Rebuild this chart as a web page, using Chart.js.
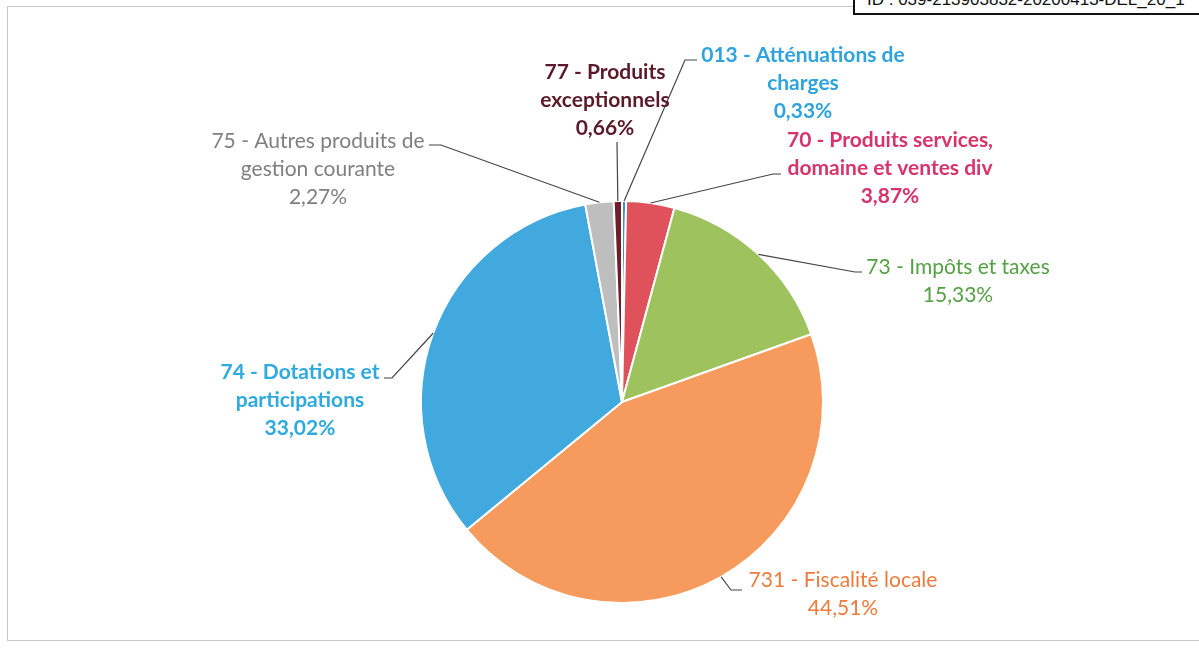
<!DOCTYPE html>
<html lang="fr">
<head>
  <meta charset="UTF-8">
  <title>Recettes de fonctionnement</title>
  <script src="https://cdn.jsdelivr.net/npm/chart.js"></script>
  <style>
    body {
      margin: 0;
      width: 1199px;
      height: 650px;
      overflow: hidden;
      background: #fff;
      position: relative;
    }
    #frame {
      position: absolute;
      left: 7px;
      top: 6px;
      width: 1260px;
      height: 633px;
      border: 1px solid #c9c9c9;
    }
    #stamp {
      position: absolute;
      left: 853px;
      top: -13px;
      width: 400px;
      height: 24px;
      border: 2px solid #111;
      background: #fff;
      font-family: "Liberation Sans", Arial;
      font-size: 17px;
      line-height: 22px;
      padding-left: 12px;
      color: #111;
      white-space: nowrap;
    }
    canvas {
      position: absolute;
      left: 0;
      top: 0;
    }
  </style>
</head>
<body>
  <div id="frame"></div>
  <canvas id="pie" width="1199" height="650"></canvas>
  <div id="stamp">ID : 039-213903832-20200413-DEL_20_1</div>

  <script>
    // catégories (ordre horaire depuis midi)
    const categories = [
      ["013 - Atténuations de", "charges"],
      ["70 - Produits services,", "domaine et ventes div"],
      ["73 - Impôts et taxes"],
      ["731 - Fiscalité locale"],
      ["74 - Dotations et", "participations"],
      ["75 - Autres produits de", "gestion courante"],
      ["77 - Produits", "exceptionnels"]
    ];
    const values = [0.33, 3.87, 15.33, 44.51, 33.02, 2.27, 0.66];
    const sliceColors = ["#3b8fd6", "#e0525b", "#9dc25e", "#f69a5e", "#41a9dd", "#bebebe", "#6f1d2b"];
    const textColors = ["#2ea3dd", "#d9346a", "#55a045", "#ef7a3c", "#2eaae1", "#7f7f7f", "#5b1a2a"];

    // placement des étiquettes : centre x, y de la 1re ligne, gras, coude et fin du trait
    const labelLayout = [
      { x: 803, y: 55, bold: true, elbow: [685, 60], end: [697, 60] },
      { x: 890, y: 140, bold: true, elbow: [773, 174], end: [781, 174] },
      { x: 958, y: 267, bold: false, elbow: [855, 272], end: [862, 272] },
      { x: 843, y: 580, bold: false, elbow: [731, 590], end: [742, 590] },
      { x: 300, y: 372, bold: true, elbow: [392, 378], end: [384, 378] },
      { x: 318, y: 141, bold: false, elbow: [441, 145], end: [429, 145] },
      { x: 605, y: 72, bold: true, elbow: [617, 142], end: [617, 142] }
    ];
    const lineHeight = 28;

    const pct = v => v.toFixed(2).replace(".", ",") + "%";

    const labelPlugin = {
      id: "outerLabels",
      afterDatasetsDraw(chart) {
        const ctx = chart.ctx;
        const meta = chart.getDatasetMeta(0);
        meta.data.forEach((arc, i) => {
          const p = arc.getProps(["x", "y", "startAngle", "endAngle", "outerRadius"], true);
          const mid = (p.startAngle + p.endAngle) / 2;
          const sx = p.x + Math.cos(mid) * p.outerRadius;
          const sy = p.y + Math.sin(mid) * p.outerRadius;
          const lay = labelLayout[i];

          ctx.save();
          ctx.strokeStyle = "#454545";
          ctx.lineWidth = 1.2;
          ctx.beginPath();
          ctx.moveTo(sx, sy);
          ctx.lineTo(lay.elbow[0], lay.elbow[1]);
          ctx.lineTo(lay.end[0], lay.end[1]);
          ctx.stroke();

          ctx.fillStyle = textColors[i];
          ctx.font = (lay.bold ? "bold " : "") + "21px Lato, 'Open Sans', sans-serif";
          ctx.textAlign = "center";
          ctx.textBaseline = "middle";
          const lines = categories[i].concat([pct(values[i])]);
          lines.forEach((t, k) => ctx.fillText(t, lay.x, lay.y + k * lineHeight));
          ctx.restore();
        });
      }
    };

    new Chart(document.getElementById("pie"), {
      type: "pie",
      data: {
        labels: categories.map(c => c.join(" ")),
        datasets: [{
          data: values,
          backgroundColor: sliceColors,
          borderColor: "#ffffff",
          borderWidth: 2
        }]
      },
      options: {
        responsive: false,
        animation: false,
        layout: { padding: { left: 420, right: 375, top: 200, bottom: 46 } },
        plugins: {
          legend: { display: false },
          tooltip: { enabled: false }
        }
      },
      plugins: [labelPlugin]
    });
  </script>
</body>
</html>
